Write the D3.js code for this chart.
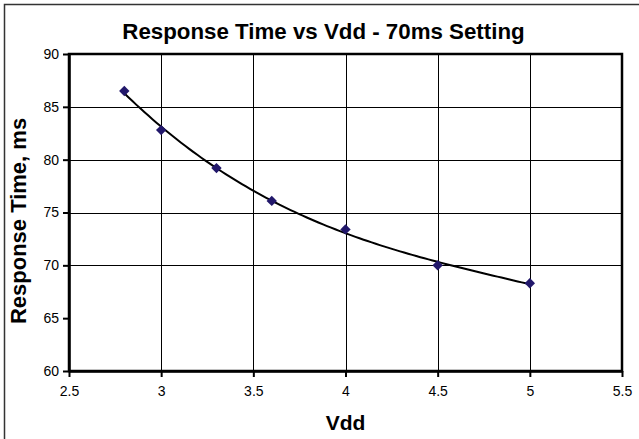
<!DOCTYPE html>
<meta charset="utf-8">
<script src="https://d3js.org/d3.v7.min.js"></script>
<style>
  body { margin: 0; background: #fff; }
  text { font-family: "Liberation Sans", Arial, sans-serif; fill: #000; }
</style>
<body>
<div id="my_dataviz"></div>
<script>
// data
var vdd = [2.8, 3.0, 3.3, 3.6, 4.0, 4.5, 5.0];
var responseTime = [86.5, 82.8, 79.2, 76.1, 73.4, 70.0, 68.3];
var xTicks = [2.5, 3, 3.5, 4, 4.5, 5, 5.5];
var yTicks = [60, 65, 70, 75, 80, 85, 90];
var yGrid = [70, 75, 80, 85];
var xGrid = [3, 3.5, 4, 4.5, 5];

var W = 639, H = 439;
var margin = { top: 54, right: 17, bottom: 68, left: 69 },
  width = W - margin.left - margin.right,
  height = H - margin.top - margin.bottom;

var svg0 = d3.select("#my_dataviz").append("svg")
  .attr("width", W).attr("height", H);

// outer chart border (runs off the right/bottom edge in the original)
svg0.append("rect")
  .attr("x", 4.5).attr("y", 4.5)
  .attr("width", 700).attr("height", 500)
  .attr("fill", "none").attr("stroke", "#333").attr("stroke-width", 1.5);

svg0.append("text")
  .attr("x", 323.5).attr("y", 39)
  .attr("text-anchor", "middle")
  .style("font-size", "22.3px").style("font-weight", "bold")
  .text("Response Time vs Vdd - 70ms Setting");

var svg = svg0.append("g")
  .attr("transform", "translate(" + margin.left + "," + margin.top + ")");

var x = d3.scaleLinear().domain([2.5, 5.5]).range([0, width]);
var y = d3.scaleLinear().domain([60, 90]).range([height, 0]);

// grid
svg.append("g").selectAll("line").data(yGrid).enter().append("line")
  .attr("x1", 0).attr("x2", width)
  .attr("y1", function (d) { return Math.round(y(d)) + 0.5; })
  .attr("y2", function (d) { return Math.round(y(d)) + 0.5; })
  .attr("stroke", "#000").attr("stroke-width", 1);
svg.append("g").selectAll("line").data(xGrid).enter().append("line")
  .attr("y1", 0).attr("y2", height)
  .attr("x1", function (d) { return Math.round(x(d)) + 0.5; })
  .attr("x2", function (d) { return Math.round(x(d)) + 0.5; })
  .attr("stroke", "#000").attr("stroke-width", 1);

// plot frame
svg.append("rect")
  .attr("x", 0).attr("y", 0).attr("width", width).attr("height", height)
  .attr("fill", "none").attr("stroke", "#000").attr("stroke-width", 2.5);

// axes
var yAxis = svg.append("g")
  .call(d3.axisLeft(y).tickValues(yTicks).tickSize(6).tickPadding(4).tickSizeOuter(0));
var xAxis = svg.append("g")
  .attr("transform", "translate(0," + height + ")")
  .call(d3.axisBottom(x).tickValues(xTicks).tickSize(6).tickPadding(9).tickSizeOuter(0)
    .tickFormat(d3.format("")));
[yAxis, xAxis].forEach(function (a) {
  a.select(".domain").attr("stroke-width", 2.5);
  a.selectAll(".tick line").attr("stroke-width", 2);
  a.selectAll("text").style("font-size", "14px").attr("fill", "#000");
});

// trendline: least-squares polynomial (order 3) through the data
function polyFit(xs, ys, order) {
  var m = order + 1, A = [];
  for (var r = 0; r < m; r++) {
    A.push([]);
    for (var c = 0; c <= m; c++) A[r].push(0);
  }
  xs.forEach(function (xv, i) {
    for (var r = 0; r < m; r++) {
      for (var c = 0; c < m; c++) A[r][c] += Math.pow(xv, r + c);
      A[r][m] += ys[i] * Math.pow(xv, r);
    }
  });
  for (var c = 0; c < m; c++) {
    for (var r = c + 1; r < m; r++) {
      var f = A[r][c] / A[c][c];
      for (var j = c; j <= m; j++) A[r][j] -= f * A[c][j];
    }
  }
  var b = new Array(m).fill(0);
  for (var r = m - 1; r >= 0; r--) {
    var v = A[r][m];
    for (var j = r + 1; j < m; j++) v -= A[r][j] * b[j];
    b[r] = v / A[r][r];
  }
  return function (xv) {
    var s = 0;
    for (var k = 0; k < m; k++) s += b[k] * Math.pow(xv, k);
    return s;
  };
}
var fit = polyFit(vdd, responseTime, 3);
var trend = d3.range(0, 101).map(function (i) {
  var xv = vdd[0] + (vdd[vdd.length - 1] - vdd[0]) * i / 100;
  return [xv, fit(xv)];
});
svg.append("path")
  .datum(trend)
  .attr("fill", "none").attr("stroke", "#000").attr("stroke-width", 2)
  .attr("d", d3.line().x(function (d) { return x(d[0]); }).y(function (d) { return y(d[1]); }));

// markers
svg.append("g").selectAll("path").data(vdd).enter().append("path")
  .attr("d", d3.symbol().type(d3.symbolSquare).size(54))
  .attr("transform", function (d, i) {
    return "translate(" + x(d) + "," + y(responseTime[i]) + ") rotate(45)";
  })
  .attr("fill", "#22186b");

// axis titles
svg0.append("text")
  .attr("x", 345.5).attr("y", 430)
  .attr("text-anchor", "middle")
  .style("font-size", "21px").style("font-weight", "bold")
  .text("Vdd");
svg0.append("text")
  .attr("transform", "translate(26,221) rotate(-90)")
  .attr("text-anchor", "middle")
  .style("font-size", "22px").style("font-weight", "bold")
  .text("Response Time, ms");
</script>
</body>
